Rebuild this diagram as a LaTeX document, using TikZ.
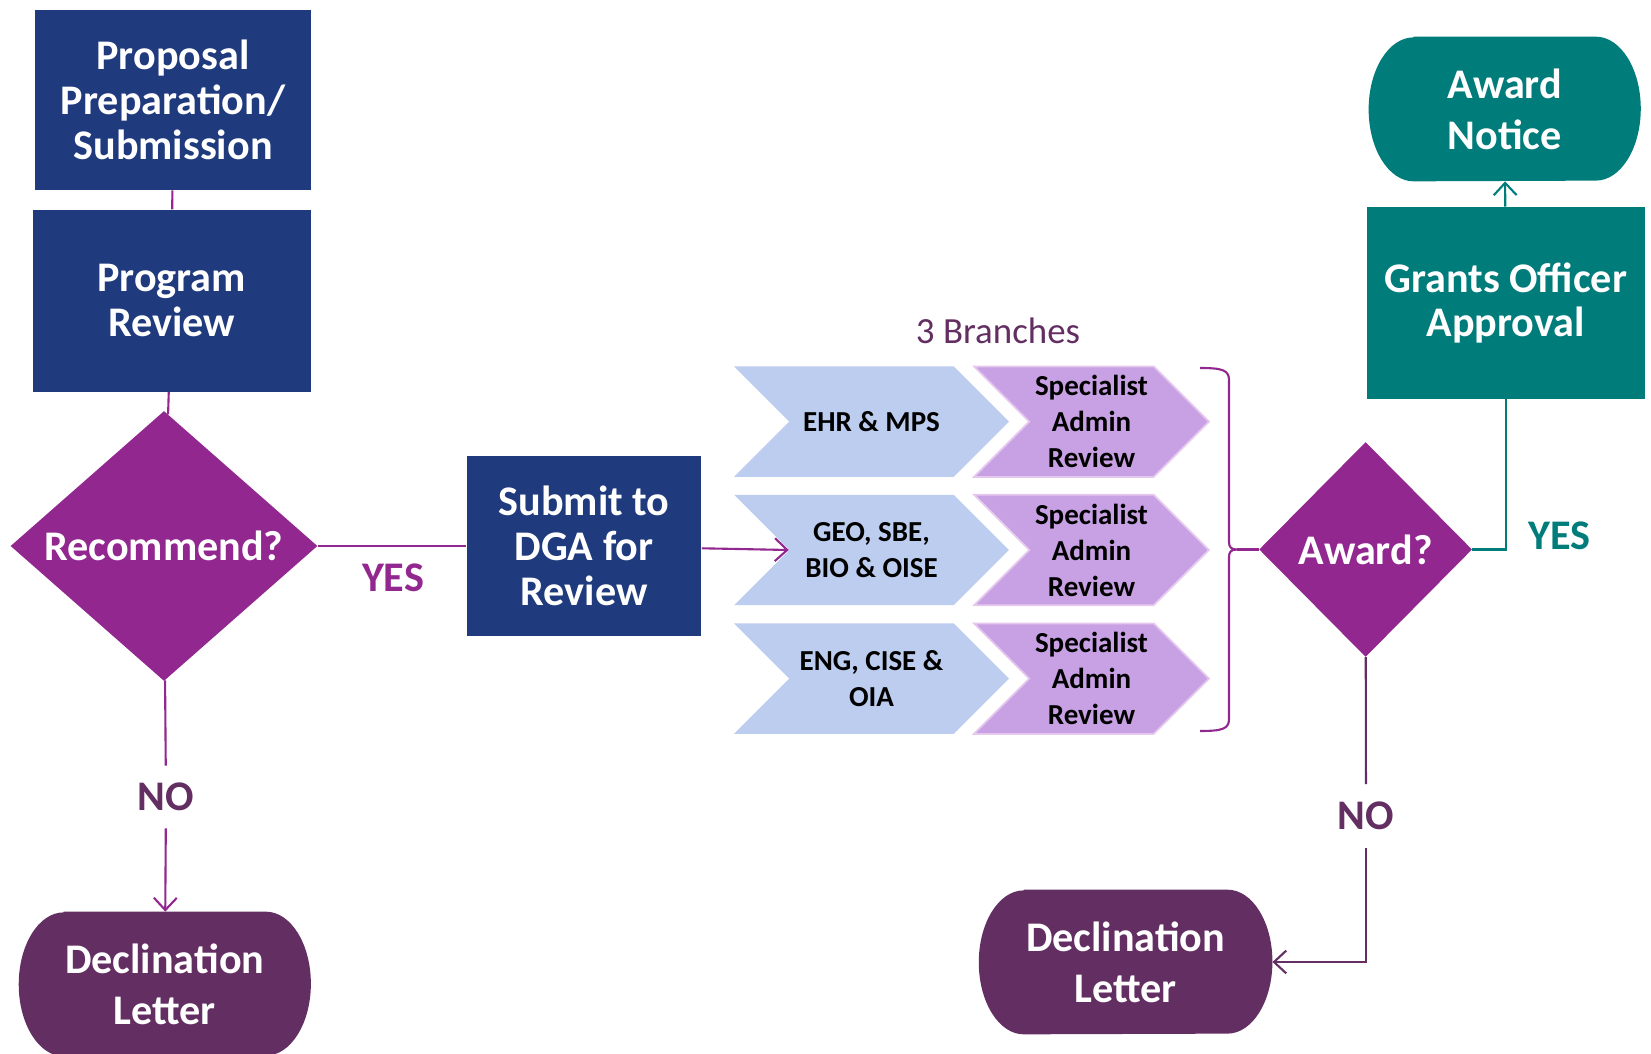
\documentclass[tikz,border=0pt]{standalone}
\usepackage{fontspec}
\setmainfont{Carlito}
\usepackage{tikz}
\usetikzlibrary{arrows.meta}
\usetikzlibrary{positioning,shapes.geometric,shapes.symbols,backgrounds}

\definecolor{nsfblue}{RGB}{31,58,125}
\definecolor{nsfpurple}{RGB}{146,39,143}
\definecolor{nsfplum}{RGB}{99,46,98}
\definecolor{nsfteal}{RGB}{0,124,122}
\definecolor{chevblue}{RGB}{188,205,240}
\definecolor{chevlilac}{RGB}{200,160,228}
\definecolor{chevedge}{RGB}{230,200,238}

% terminator fill: flat top and bottom, half-ellipse ends
\newcommand{\termfill}[2]{%
  \fill[#2] ([xshift=0.9cm]#1.north west) -- ([xshift=-0.9cm]#1.north east)
    arc[start angle=90,end angle=-90,x radius=0.9cm,y radius=1.44cm]
    -- ([xshift=0.9cm]#1.south west)
    arc[start angle=270,end angle=90,x radius=0.9cm,y radius=1.44cm] -- cycle;}

\begin{document}
\begin{tikzpicture}[->,>={Straight Barb[length=7pt,width=13pt]},x=0.02cm,y=-0.02cm,
                    main box/.style={rectangle,fill=nsfblue,text=white,align=center,inner sep=0pt,
                                     font=\bfseries\fontsize{24}{25.6}\selectfont},
                    decision/.style={diamond,fill=nsfpurple,text=white,inner sep=0pt,
                                     font=\bfseries\fontsize{24}{28}\selectfont},
                    end node/.style={rectangle,text=white,align=center,minimum height=2.88cm,inner sep=0pt,
                                     font=\bfseries\fontsize{24}{29}\selectfont},
                    branch/.style={signal,signal from=west,signal to=east,signal pointer angle=90,
                                   fill=chevblue,align=center,minimum width=5.5cm,minimum height=2.21cm,
                                   inner sep=0pt,font=\bfseries\fontsize{16.5}{20.5}\selectfont},
                    admin/.style={branch,fill=chevlilac,draw=chevedge,line width=1pt,minimum width=4.7cm},
                    answer/.style={inner sep=0pt,font=\bfseries\fontsize{24}{28}\selectfont},
                    link/.style={draw=nsfpurple,line width=1.2pt}]

\useasboundingbox (0,0) rectangle (1651,1054);

% left column
\node[main box] (prop) at (173,100) [minimum width=5.54cm, minimum height=3.6cm] {Proposal\\Preparation/\\Submission};
\node[main box] (prog) at (171.6,300.6) [minimum width=5.56cm, minimum height=3.64cm] {Program\\Review};
\node[decision] (rec) at (164,546) [minimum width=6.14cm, minimum height=5.4cm] {Recommend?};
\node[end node] (decl1) at (164.8,984) [minimum width=5.83cm] {Declination\\Letter};
\node[answer, text=nsfpurple] (yes1) at (393,578) {YES};
\node[answer, text=nsfplum, minimum height=1.24cm] (no1) at (166,797) {NO};

% DGA and the branches
\node[main box] (sub) at (584,546) [minimum width=4.7cm, minimum height=3.62cm] {Submit to\\DGA for\\Review};
\node[text=nsfplum, font=\fontsize{21}{25}\selectfont] (branches) at (998,331) {3 Branches};

\node[branch] (ehr) at (871.5,421.7) {EHR \& MPS};
\node[branch] (geo) at (871.5,550) {GEO, SBE,\\BIO \& OISE};
\node[branch] (eng) at (871.5,678.7) {ENG, CISE \&\\OIA};
\node[admin] (sar1) at (1091.5,421.7) {Specialist\\Admin\\Review};
\node[admin] (sar2) at (1091.5,550) {Specialist\\Admin\\Review};
\node[admin] (sar3) at (1091.5,678.7) {Specialist\\Admin\\Review};
\coordinate (bracetop) at (1200,368);
\coordinate (bracebot) at (1200,731);
\coordinate (bracetip) at (1237,549.5);

% right column
\node[decision] (award) at (1365.6,549.5) [minimum width=4.26cm, minimum height=4.3cm] {Award?};
\node[main box, fill=nsfteal] (grants) at (1505.8,303) [minimum width=5.56cm, minimum height=3.84cm] {Grants Officer\\Approval};
\node[end node] (notice) at (1504.7,109) [minimum width=5.43cm] {Award\\Notice};
\node[end node] (decl2) at (1125.6,962) [minimum width=5.86cm] {Declination\\Letter};
\node[answer, text=nsfteal] (yes2) at (1559.5,536) {YES};
\node[answer, text=nsfplum, minimum height=1.26cm] (no2) at (1366,816) {NO};

\begin{scope}[on background layer]
  \termfill{decl1}{nsfplum}
  \termfill{decl2}{nsfplum}
  \termfill{notice}{nsfteal}
\end{scope}

\path
    (prop) edge [link,-] (prog)
    (prog) edge [link,-] (rec)
    (rec) edge [link,-] (sub)
    (sub) edge [link] (geo.west)
    (rec) edge [link,-] (no1)
    (no1) edge [link] (decl1)
    (grants) edge [link,draw=nsfteal] (notice)
    (award) edge [link,-,draw=nsfplum] (no2)
    (bracetip) edge [link,-] (award)
    ;
\draw[link,-,draw=nsfteal] (award.east) -| (grants.south);
\draw[link,draw=nsfplum] (no2) |- (decl2.east);
% brace round the three branches
\draw[link,-] (bracetop) .. controls (1222,368) and (1229,370) .. (1229,380) -- (1229,542)
    .. controls (1229,547) and (1231,549.5) .. (bracetip)
    .. controls (1231,549.5) and (1229,552) .. (1229,557) -- (1229,719)
    .. controls (1229,729) and (1222,731) .. (bracebot);
\end{tikzpicture}
\end{document}
